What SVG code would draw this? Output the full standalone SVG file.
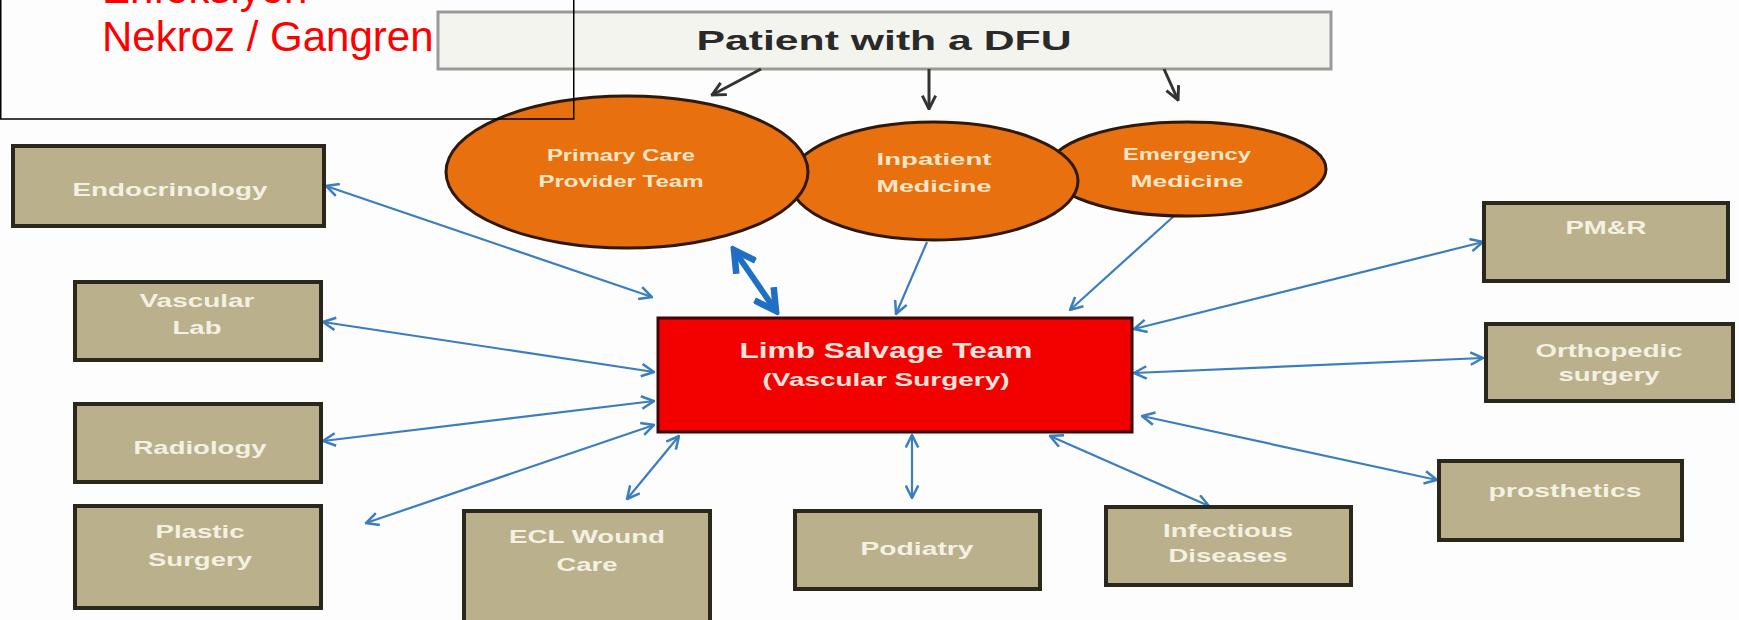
<svg xmlns="http://www.w3.org/2000/svg" width="1739" height="620" viewBox="0 0 1739 620">
<style>
.box{fill:#bab08c;stroke:#2a281c;stroke-width:4}
.bt{font-family:"Liberation Sans",Arial,sans-serif;font-weight:bold;font-size:19px;fill:#f4f0e2;text-anchor:middle}
.ell{fill:#e8700e;stroke:#2e1806;stroke-width:3}
.et{font-family:"Liberation Sans",Arial,sans-serif;font-weight:bold;font-size:17px;fill:#fbe6c8;text-anchor:middle}
.lt{font-family:"Liberation Sans",Arial,sans-serif;font-weight:bold;fill:#fbe3dc;text-anchor:middle}
.bl{fill:none;stroke:#3b7dbf;stroke-width:2.2}
.bk{fill:none;stroke:#333;stroke-width:3}
</style>
<defs>
<marker id="ab" viewBox="0 0 12 12" refX="11" refY="6" markerWidth="15" markerHeight="15" markerUnits="userSpaceOnUse" orient="auto-start-reverse"><path d="M1,1 L11,6 L1,11" fill="none" stroke="#3b7dbf" stroke-width="2"/></marker>
<marker id="ak" viewBox="0 0 12 12" refX="11" refY="6" markerWidth="16" markerHeight="16" markerUnits="userSpaceOnUse" orient="auto"><path d="M1,1 L11,6 L1,11" fill="none" stroke="#333" stroke-width="2.2"/></marker>
<marker id="at" viewBox="0 0 12 12" refX="10" refY="6" markerWidth="28" markerHeight="28" markerUnits="userSpaceOnUse" orient="auto-start-reverse"><path d="M1,1 L10,6 L1,11" fill="none" stroke="#1f6fc4" stroke-width="2.8"/></marker>
</defs>
<rect width="1739" height="620" fill="#fdfdfd"/>

<g id="patient">
<rect x="438" y="12" width="893" height="57" fill="#f4f4ee" stroke="#999" stroke-width="3"/>
<text x="884" y="50" font-family="Liberation Sans,Arial,sans-serif" font-weight="bold" font-size="28" fill="#2a2a2a" text-anchor="middle" textLength="375" lengthAdjust="spacingAndGlyphs">Patient with a DFU</text>
</g>

<g id="connectors">
<line class="bk" x1="761" y1="69" x2="712" y2="95" marker-end="url(#ak)"/>
<line class="bk" x1="929" y1="69" x2="929" y2="109" marker-end="url(#ak)"/>
<line class="bk" x1="1164" y1="69" x2="1178" y2="100" marker-end="url(#ak)"/>
<line class="bl" x1="326" y1="186" x2="652" y2="297" marker-start="url(#ab)" marker-end="url(#ab)"/>
<line class="bl" x1="323" y1="322" x2="654" y2="372" marker-start="url(#ab)" marker-end="url(#ab)"/>
<line class="bl" x1="323" y1="441" x2="654" y2="401" marker-start="url(#ab)" marker-end="url(#ab)"/>
<line class="bl" x1="366" y1="523" x2="654" y2="425" marker-start="url(#ab)" marker-end="url(#ab)"/>
<line class="bl" x1="627" y1="499" x2="679" y2="436" marker-start="url(#ab)" marker-end="url(#ab)"/>
<line class="bl" x1="912" y1="498" x2="912" y2="435" marker-start="url(#ab)" marker-end="url(#ab)"/>
<line class="bl" x1="1209" y1="506" x2="1050" y2="436" marker-start="url(#ab)" marker-end="url(#ab)"/>
<line class="bl" x1="1437" y1="480" x2="1142" y2="416" marker-start="url(#ab)" marker-end="url(#ab)"/>
<line class="bl" x1="1483" y1="358" x2="1134" y2="373" marker-start="url(#ab)" marker-end="url(#ab)"/>
<line class="bl" x1="1483" y1="242" x2="1134" y2="329" marker-start="url(#ab)" marker-end="url(#ab)"/>
<line class="bl" x1="927" y1="242" x2="896" y2="314" marker-end="url(#ab)"/>
<line class="bl" x1="1174" y1="216" x2="1070" y2="310" marker-end="url(#ab)"/>
<line x1="734" y1="250" x2="776" y2="311" fill="none" stroke="#1f6fc4" stroke-width="6" marker-start="url(#at)" marker-end="url(#at)"/>
</g>

<g id="emergency">
<ellipse class="ell" cx="1187" cy="169" rx="139" ry="47"/>
<text class="et" x="1187" y="160" textLength="128" lengthAdjust="spacingAndGlyphs">Emergency</text>
<text class="et" x="1187" y="187" textLength="113" lengthAdjust="spacingAndGlyphs">Medicine</text>
</g>
<g id="inpatient">
<ellipse class="ell" cx="934" cy="181" rx="144" ry="59"/>
<text class="et" x="934" y="165" textLength="115" lengthAdjust="spacingAndGlyphs">Inpatient</text>
<text class="et" x="934" y="192" textLength="115" lengthAdjust="spacingAndGlyphs">Medicine</text>
</g>
<g id="primary">
<ellipse class="ell" cx="627" cy="172" rx="181" ry="76"/>
<text class="et" x="621" y="161" textLength="148" lengthAdjust="spacingAndGlyphs">Primary Care</text>
<text class="et" x="621" y="187" textLength="165" lengthAdjust="spacingAndGlyphs">Provider Team</text>
</g>

<g id="limb">
<rect x="658" y="318" width="474" height="114" fill="#f20000" stroke="#3a0808" stroke-width="3"/>
<text class="lt" x="886" y="358" font-size="22" textLength="293" lengthAdjust="spacingAndGlyphs">Limb Salvage Team</text>
<text class="lt" x="886" y="386" font-size="18" textLength="247" lengthAdjust="spacingAndGlyphs">(Vascular Surgery)</text>
</g>

<g id="endocrinology">
<rect class="box" x="13" y="146" width="311" height="80"/>
<text class="bt" x="170" y="196" textLength="195" lengthAdjust="spacingAndGlyphs">Endocrinology</text>
</g>
<g id="vascular-lab">
<rect class="box" x="75" y="282" width="246" height="78"/>
<text class="bt" x="197" y="307" textLength="115" lengthAdjust="spacingAndGlyphs">Vascular</text>
<text class="bt" x="197" y="334" textLength="49" lengthAdjust="spacingAndGlyphs">Lab</text>
</g>
<g id="radiology">
<rect class="box" x="75" y="404" width="246" height="78"/>
<text class="bt" x="200" y="454" textLength="133" lengthAdjust="spacingAndGlyphs">Radiology</text>
</g>
<g id="plastic-surgery">
<rect class="box" x="75" y="506" width="246" height="102"/>
<text class="bt" x="200" y="538" textLength="89" lengthAdjust="spacingAndGlyphs">Plastic</text>
<text class="bt" x="200" y="566" textLength="104" lengthAdjust="spacingAndGlyphs">Surgery</text>
</g>
<g id="ecl-wound-care">
<rect class="box" x="464" y="511" width="246" height="115"/>
<text class="bt" x="587" y="543" textLength="156" lengthAdjust="spacingAndGlyphs">ECL Wound</text>
<text class="bt" x="587" y="571" textLength="61" lengthAdjust="spacingAndGlyphs">Care</text>
</g>
<g id="podiatry">
<rect class="box" x="795" y="511" width="245" height="78"/>
<text class="bt" x="917" y="555" textLength="113" lengthAdjust="spacingAndGlyphs">Podiatry</text>
</g>
<g id="infectious-diseases">
<rect class="box" x="1106" y="507" width="245" height="78"/>
<text class="bt" x="1228" y="537" textLength="130" lengthAdjust="spacingAndGlyphs">Infectious</text>
<text class="bt" x="1228" y="562" textLength="119" lengthAdjust="spacingAndGlyphs">Diseases</text>
</g>
<g id="prosthetics">
<rect class="box" x="1439" y="461" width="243" height="79"/>
<text class="bt" x="1565" y="497" textLength="153" lengthAdjust="spacingAndGlyphs">prosthetics</text>
</g>
<g id="orthopedic-surgery">
<rect class="box" x="1486" y="324" width="247" height="77"/>
<text class="bt" x="1609" y="357" textLength="147" lengthAdjust="spacingAndGlyphs">Orthopedic</text>
<text class="bt" x="1609" y="381" textLength="101" lengthAdjust="spacingAndGlyphs">surgery</text>
</g>
<g id="pmr">
<rect class="box" x="1484" y="203" width="244" height="78"/>
<text class="bt" x="1606" y="234" textLength="81" lengthAdjust="spacingAndGlyphs">PM&amp;R</text>
</g>

<g id="note">
<rect x="0.75" y="-2" width="573" height="121" fill="none" stroke="#000" stroke-width="1.5"/>
<text x="102" y="3" font-family="Liberation Sans,Arial,sans-serif" font-size="42" fill="#ff0000">Enfeksiyon</text>
<text x="102" y="51" font-family="Liberation Sans,Arial,sans-serif" font-size="42" fill="#ff0000">Nekroz / Gangren</text>
</g>
</svg>
